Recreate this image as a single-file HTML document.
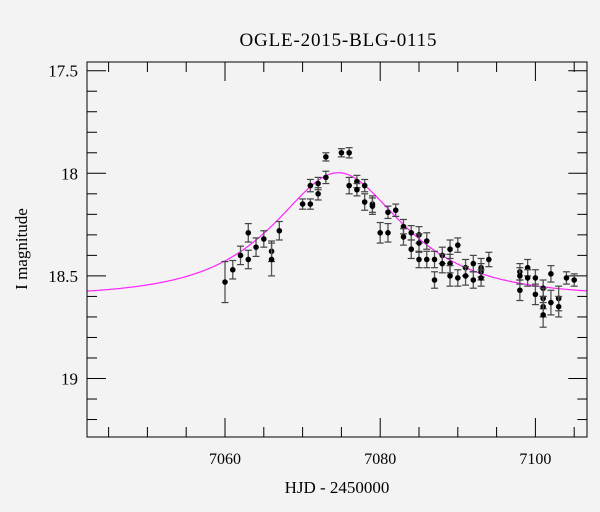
<!DOCTYPE html>
<html><head><meta charset="utf-8"><style>
html,body{margin:0;padding:0;background:#f3f3f3;}
svg{display:block;font-family:"Liberation Serif",serif;}
</style></head><body>
<svg id="chart" width="600" height="512" viewBox="0 0 600 512" xmlns="http://www.w3.org/2000/svg">
<rect x="0" y="0" width="600" height="512" fill="#f3f3f3"/>
<text x="338" y="46" font-size="19" text-anchor="middle" textLength="197">OGLE-2015-BLG-0115</text>
<text transform="translate(27,249) rotate(-90)" font-size="17" text-anchor="middle">I magnitude</text>
<text x="337" y="493" font-size="17" text-anchor="middle">HJD - 2450000</text>
<g id="ticks"></g>
<g id="curve"></g>
<g id="points"></g>
<rect x="87" y="62" width="500" height="375" fill="none" stroke="#000" stroke-width="1"/>
</svg>
<script>
const days=[7060,7061,7062,7063,7063,7064,7065,7066,7066,7067,7070,7071,7071,7072,7072,7073,7073,7075,7076,7076,7077,7077,7078,7078,7079,7079,7080,7081,7081,7082,7083,7083,7084,7084,7085,7085,7085,7086,7086,7087,7087,7088,7088,7089,7089,7089,7090,7090,7091,7091,7092,7092,7093,7093,7093,7094,7098,7098,7098,7099,7099,7100,7100,7101,7101,7101,7101,7102,7102,7103,7103,7104,7105];
const mags=[18.53,18.47,18.40,18.29,18.42,18.36,18.32,18.38,18.42,18.28,18.15,18.15,18.06,18.10,18.05,18.02,17.92,17.90,17.90,18.06,18.04,18.08,18.06,18.14,18.15,18.16,18.29,18.29,18.19,18.18,18.26,18.31,18.29,18.37,18.30,18.34,18.42,18.33,18.42,18.42,18.52,18.40,18.44,18.37,18.44,18.50,18.35,18.51,18.46,18.50,18.44,18.52,18.46,18.48,18.51,18.42,18.48,18.50,18.57,18.46,18.51,18.51,18.59,18.56,18.61,18.65,18.69,18.49,18.63,18.61,18.65,18.51,18.52];
const errs=[0.10,0.045,0.045,0.045,0.045,0.045,0.04,0.05,0.08,0.045,0.025,0.025,0.03,0.03,0.03,0.03,0.02,0.02,0.025,0.04,0.03,0.03,0.03,0.04,0.04,0.04,0.05,0.045,0.03,0.03,0.035,0.04,0.035,0.045,0.04,0.045,0.04,0.04,0.04,0.04,0.04,0.04,0.045,0.045,0.045,0.05,0.035,0.04,0.04,0.045,0.04,0.04,0.045,0.04,0.04,0.035,0.04,0.04,0.05,0.04,0.04,0.04,0.05,0.04,0.05,0.05,0.06,0.04,0.06,0.06,0.05,0.03,0.03];
const xTicks=[7060,7080,7100];
const yTicks=[17.5,18,18.5,19];
const model={t0:7074.6,u0:0.665,tE:12.4,base:18.6};
const NS='http://www.w3.org/2000/svg';
const X0=87,X1=587.3,Y0=62,Y1=437;
function sx(d){return 225+(d-7060)*7.76;}
function sy(m){return 70.7+(m-17.5)*205.2;}
function mk(tag,attrs,parent){const e=document.createElementNS(NS,tag);for(const k in attrs)e.setAttribute(k,attrs[k]);parent.appendChild(e);return e;}
const tg=document.getElementById('ticks');
// x ticks
for(let d=7045;d<=7106;d+=5){const x=sx(d);if(x<X0||x>X1)continue;const major=(d%20===0);const L=major?19:10;
 const t1=mk('line',{x1:x,x2:x,y1:Y1,y2:Y1-L,stroke:'#000','stroke-width':1},tg);
 
 
 const t2=mk('line',{x1:x,x2:x,y1:Y0,y2:Y0+L,stroke:'#000','stroke-width':1},tg);
 
 }
xTicks.forEach(d=>{const t=mk('text',{x:sx(d),y:464,'font-size':16,'text-anchor':'middle'},tg);t.textContent=d;
 
 });
// y ticks
for(let i=0;i<=18;i++){const m=17.5+i*0.1;const y=sy(m);if(y<Y0||y>Y1)continue;const major=(i%5===0);const L=major?19:10;
 const t1=mk('line',{x1:X0,x2:X0+L,y1:y,y2:y,stroke:'#000','stroke-width':1},tg);
 
 
 const t2=mk('line',{x1:X1,x2:X1-L,y1:y,y2:y,stroke:'#000','stroke-width':1},tg);
 
 }
yTicks.forEach(m=>{const t=mk('text',{x:78,y:sy(m)+6,'font-size':17,'text-anchor':'end'},tg);t.textContent=String(m);
 
 });
// model curve
function magAt(t){const u=Math.sqrt(model.u0*model.u0+Math.pow((t-model.t0)/model.tE,2));const A=(u*u+2)/(u*Math.sqrt(u*u+4));return model.base-2.5*Math.log10(A);}
let pts=[];for(let t=7042.2;t<=7106.7;t+=0.2){pts.push(sx(t).toFixed(1)+','+sy(magAt(t)).toFixed(1));}
const cv=mk('polyline',{points:pts.join(' '),fill:'none',stroke:'#ff22ff','stroke-width':1.2},document.getElementById('curve'));


// points
const pg=document.getElementById('points');
days.forEach((d,i)=>{const x=sx(d),y=sy(mags[i]),e=errs[i]*205.2;
 const g=mk('g',{},pg);
 
 
 mk('line',{x1:x,x2:x,y1:y-e,y2:y+e,stroke:'#555','stroke-width':1.3},g);
 mk('line',{x1:x-3.5,x2:x+3.5,y1:y-e,y2:y-e,stroke:'#444','stroke-width':1.2},g);
 mk('line',{x1:x-3.5,x2:x+3.5,y1:y+e,y2:y+e,stroke:'#444','stroke-width':1.2},g);
 mk('circle',{cx:x,cy:y,r:2.8,fill:'#000'},g);});
</script>
</body></html>
